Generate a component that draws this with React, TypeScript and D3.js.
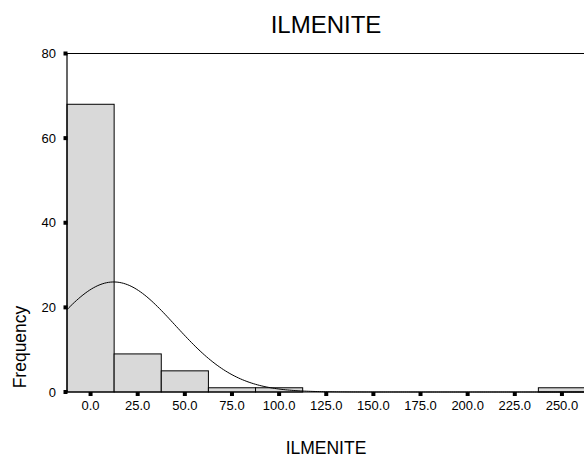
import React from "react";
import * as d3 from "d3";

const binCenters = [0, 25, 50, 75, 100, 125, 150, 175, 200, 225, 250];
const counts = [68, 9, 5, 1, 1, 0, 0, 0, 0, 0, 1];
const yTicks = [0, 20, 40, 60, 80];
const xTickLabels = ["0.0", "25.0", "50.0", "75.0", "100.0", "125.0", "150.0", "175.0", "200.0", "225.0", "250.0"];
const binWidth = 25;
const curveMean = 12.3;
const curveSd = 32.6;
const totalN = 85;

export default function App() {
  const font = "'Liberation Sans', Arial, sans-serif";
  const x = d3.scaleLinear().domain([-12.5, 262.5]).range([67, 585.5]);
  const y = d3.scaleLinear().domain([0, 80]).range([392, 53.5]);

  const pts: [number, number][] = [];
  for (let v = -12.5; v <= 262.5; v += 1) {
    const dens = Math.exp(-((v - curveMean) ** 2) / (2 * curveSd * curveSd)) / (curveSd * Math.sqrt(2 * Math.PI));
    pts.push([v, totalN * binWidth * dens]);
  }
  const line = d3.line<[number, number]>().x((d) => x(d[0])).y((d) => y(d[1]));

  return (
    <svg width={584} height={457} style={{ position: "absolute", left: 0, top: 0, display: "block", background: "#fff" }}>
      <text x={326} y={33} textAnchor="middle" fontFamily={font} fontSize={24} fill="#000">ILMENITE</text>
      {binCenters.map((c, i) =>
        counts[i] > 0 ? (
          <rect key={i} x={x(c - binWidth / 2)} y={y(counts[i])} width={x(c + binWidth / 2) - x(c - binWidth / 2)} height={y(0) - y(counts[i])} fill="#d9d9d9" stroke="#000" strokeWidth={1} />
        ) : null
      )}
      <path d={line(pts) || ""} fill="none" stroke="#000" strokeWidth={1} />
      <line x1={x(-12.5)} x2={600} y1={y(80)} y2={y(80)} stroke="#000" strokeWidth={1.2} />
      <line x1={x(-12.5)} x2={600} y1={y(0)} y2={y(0)} stroke="#000" strokeWidth={1.2} />
      <line x1={x(-12.5)} x2={x(-12.5)} y1={y(80)} y2={y(0)} stroke="#000" strokeWidth={1.2} />
      {yTicks.map((t) => (
        <g key={t}>
          <rect x={63.5} y={y(t) - 2} width={4} height={4} fill="#000" />
          <text x={56} y={y(t) + 4.5} textAnchor="end" fontFamily={font} fontSize={13} fill="#000">{t}</text>
        </g>
      ))}
      {binCenters.map((c, i) => (
        <g key={c}>
          <rect x={x(c) - 2} y={392} width={4} height={4} fill="#000" />
          <text x={x(c)} y={410} textAnchor="middle" fontFamily={font} fontSize={13} fill="#000">{xTickLabels[i]}</text>
        </g>
      ))}
      <text transform={`translate(26,347) rotate(-90)`} textAnchor="middle" fontFamily={font} fontSize={17.5} fill="#000">Frequency</text>
      <text x={326} y={454} textAnchor="middle" fontFamily={font} fontSize={17.5} fill="#000">ILMENITE</text>
    </svg>
  );
}
